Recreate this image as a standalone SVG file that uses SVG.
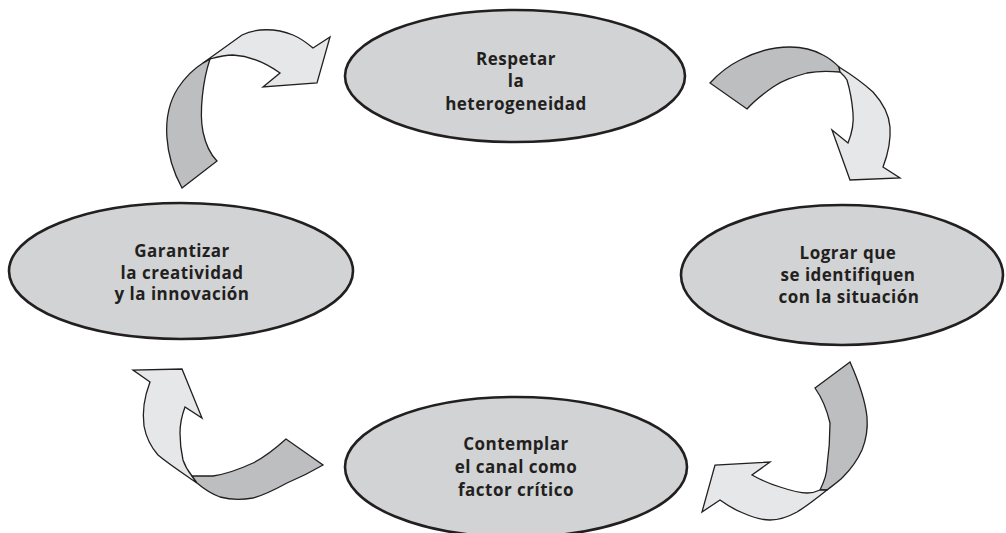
<svg xmlns="http://www.w3.org/2000/svg" width="1006" height="533" viewBox="0 0 1006 533">
<style>
.node ellipse{fill:#d1d3d4;stroke:#231f20;stroke-width:2.6}
.node text{font-family:"Open Sans","Liberation Sans",sans-serif;font-weight:700;font-size:17px;letter-spacing:0.5px;fill:#231f20;text-anchor:middle}
.dk{fill:#bcbec0;stroke:#231f20;stroke-width:1.3;stroke-linejoin:miter}
.lt{fill:#e6e7e8;stroke:#231f20;stroke-width:1.3;stroke-linejoin:miter}
</style>
<rect width="1006" height="533" fill="#ffffff"/>
<g id="connectors">
  <g id="arrow-top-left">
    <path class="dk" d="M182,188 C165,157 160,116 178,88 C186,76 195,68 203,63 L210,59 C203,80 199,112 203,132 C206,146 211,155 217,161 Z"/>
    <path class="lt" d="M203,63 L242,35 C256,28 276,28 293,35 C300,38 307,43 313,48 L330,37 L317,83 L263,87 L280,73 C266,63 250,56 233,55 C225,55 217,57 210,59 Z"/>
  </g>
  <g id="arrow-top-right">
    <path class="dk" d="M710,83 C720,72 730,65 740,60 C757,51 773,47 790,47 C803,47 814,50 823,55 C829,58 834,62 839,67 L840,72 C829,71 817,71 807,73 C793,77 783,80 773,87 C763,94 754,101 747,109 Z"/>
    <path class="lt" d="M839,67 C852,75 863,83 873,92 C883,103 889,114 890,127 C891,141 888,154 883,167 L900,178 L850,180 L832,130 L848,143 C852,133 854,123 853,113 C852,101 850,90 847,80 C845,76 842,74 840,72 Z"/>
  </g>
  <g id="arrow-bottom-right">
    <path class="dk" d="M815,388 L850,362 C858,380 865,398 867,417 C868,429 866,440 862,450 C857,461 851,469 843,477 C838,482 832,486 827,490 L820,490 C824,482 827,474 827,466 C829,452 830,437 830,423 C827,410 822,398 815,388 Z"/>
    <path class="lt" d="M827,490 C817,498 807,506 797,512 C788,517 779,520 770,520 C761,520 752,517 743,513 C735,510 727,505 720,500 L702,512 L715,465 L770,462 L752,475 C761,480 770,484 780,487 C789,490 798,493 807,493 C811,493 816,492 820,490 Z"/>
  </g>
  <g id="arrow-bottom-left">
    <path class="lt" d="M150,382 L133,370 L182,369 L202,418 L185,407 C182,415 180,424 180,433 C180,442 181,451 183,460 C185,466 188,471 192,476 L197,483 C184,474 170,465 158,455 C151,447 146,437 144,426 C142,411 145,395 150,382 Z"/>
    <path class="dk" d="M192,476 C199,476 206,476 213,476 C227,474 240,469 253,463 C265,457 276,448 286,439 L323,465 C311,472 299,478 287,483 C276,489 265,495 253,498 C242,500 231,500 220,497 C212,494 204,489 197,483 Z"/>
  </g>
</g>
<g id="node-top" class="node">
  <ellipse cx="515" cy="76" rx="170" ry="66"/>
  <text x="516" y="65">Respetar</text>
  <text x="516" y="87">la</text>
  <text x="516" y="110">heterogeneidad</text>
</g>
<g id="node-right" class="node">
  <ellipse cx="842" cy="275" rx="161" ry="70"/>
  <text x="848" y="259">Lograr que</text>
  <text x="848" y="281">se identifiquen</text>
  <text x="849" y="303">con la situación</text>
</g>
<g id="node-bottom" class="node">
  <ellipse cx="516" cy="467" rx="171" ry="70"/>
  <text x="516" y="450">Contemplar</text>
  <text x="516" y="473">el canal como</text>
  <text x="516" y="496">factor crítico</text>
</g>
<g id="node-left" class="node">
  <ellipse cx="181" cy="271" rx="172" ry="68"/>
  <text x="182" y="257">Garantizar</text>
  <text x="182" y="279">la creatividad</text>
  <text x="182" y="300">y la innovación</text>
</g>
</svg>
